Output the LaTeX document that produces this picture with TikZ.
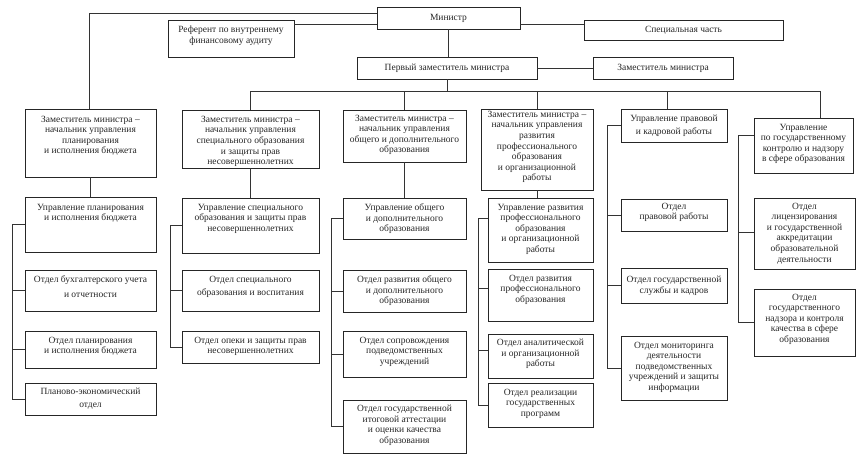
\documentclass[tikz,border=0pt]{standalone}
\usepackage{fontspec}
\setmainfont{Liberation Serif}
\usetikzlibrary{fit}
\tikzset{
  box/.style={draw=black!85, line width=0.9pt, inner sep=0pt, fill=white},
  txt/.style={align=center, inner sep=0pt, text=black!85, font=\fontsize{9.5}{10.6}\selectfont},
  ln/.style={draw=black!80, line width=0.85pt}
}
% #1 name, #2 x1, #3 y1, #4 x2, #5 y2, #6 first line centre y, #7 text
\newcommand\bx[7]{%
  \node[box, fit={(#2,#3) (#4,#5)}] (#1) {};
  \node[txt, anchor=north] (#1t) at ({(#2+#4)/2},{#6-4.3}) {#7};
}
\begin{document}
\begin{tikzpicture}[x=1pt,y=-1pt]
\fill[white] (0,0) rectangle (862,464);
\useasboundingbox (0,0) rectangle (862,464);
% top
\bx{min}{377}{7}{520}{29}{18}{Министр}
\bx{ref}{168}{20}{294}{57}{30}{Референт по внутреннему\\финансовому аудиту}
\bx{spec}{584}{20}{783}{40}{30}{Специальная часть}
\bx{perv}{357}{57}{537}{79}{68}{Первый заместитель министра}
\bx{zam}{593}{57}{733}{79}{68}{Заместитель министра}
% column 1
\bx{c1}{25}{109}{156}{177}{120}{Заместитель министра –\\начальник управления\\планирования\\и исполнения бюджета}
\bx{u1}{25}{197}{156}{252}{208}{Управление планирования\\и исполнения бюджета}
\bx{d1a}{25}{270}{156}{311}{280}{Отдел бухгалтерского учета\\[4.5pt]и отчетности}
\bx{d1b}{25}{331}{156}{368}{341}{Отдел планирования\\и исполнения бюджета}
\bx{d1c}{25}{383}{156}{415}{392}{Планово-экономический\\[2.5pt]отдел}
% column 2
\bx{c2}{182}{110}{319}{168}{120}{Заместитель министра –\\начальник управления\\специального образования\\и защиты прав\\несовершеннолетних}
\bx{u2}{182}{198}{319}{253}{208}{Управление специального\\образования и защиты прав\\несовершеннолетних}
\bx{d2a}{182}{270}{319}{311}{280}{Отдел специального\\[2.5pt]образования и воспитания}
\bx{d2b}{182}{331}{319}{363}{341}{Отдел опеки и защиты прав\\несовершеннолетних}
% column 3
\bx{c3}{343}{110}{466}{162}{119}{Заместитель министра –\\начальник управления\\общего и дополнительного\\образования}
\bx{u3}{343}{198}{466}{239}{208}{Управление общего\\и дополнительного\\образования}
\bx{d3a}{343}{270}{466}{312}{280}{Отдел развития общего\\и дополнительного\\образования}
\bx{d3b}{343}{331}{466}{377}{341}{Отдел сопровождения\\подведомственных\\учреждений}
\bx{d3c}{343}{400}{466}{453}{409}{Отдел государственной\\итоговой аттестации\\и оценки качества\\образования}
% column 4
\bx{c4}{481}{109}{593}{190}{115}{Заместитель министра –\\начальник управления\\развития\\профессионального\\образования\\и организационной\\работы}
\bx{u4}{488}{198}{593}{262}{208}{Управление развития\\профессионального\\образования\\и организационной\\работы}
\bx{d4a}{488}{269}{593}{321}{279}{Отдел развития\\профессионального\\образования}
\bx{d4b}{488}{334}{593}{378}{343}{Отдел аналитической\\и организационной\\работы}
\bx{d4c}{488}{383}{593}{427}{393}{Отдел реализации\\государственных\\программ}
% column 5
\bx{c5}{621}{109}{727}{142}{119}{Управление правовой\\[2pt]и кадровой работы}
\bx{d5a}{621}{199}{727}{231}{207}{Отдел\\правовой работы}
\bx{d5b}{621}{268}{727}{303}{280}{Отдел государственной\\службы и кадров}
\bx{d5c}{621}{336}{727}{400}{346}{Отдел мониторинга\\деятельности\\подведомственных\\учреждений и защиты\\информации}
% column 6
\bx{c6}{754}{118}{853}{173}{128}{Управление\\по государственному\\контролю и надзору\\в сфере образования}
\bx{d6a}{754}{198}{855}{269}{207}{Отдел\\лицензирования\\и государственной\\аккредитации\\образовательной\\деятельности}
\bx{d6b}{754}{289}{855}{356}{298}{Отдел\\государственного\\надзора и контроля\\качества в сфере\\образования}
% top connectors
\draw[ln] (min.west |- 0,13) -- (89,13) -- (c1.north -| 89,0);
\draw[ln] (ref.east |- 0,24) -- (min.west |- 0,24);
\draw[ln] (min.east |- 0,24) -- (spec.west |- 0,24);
\draw[ln] (min.south) -- (min.south |- perv.north);
\draw[ln] (perv.east) -- (zam.west);
\draw[ln] (perv.south) -- (perv.south |- 0,91);
\draw[ln] (c2.north) |- (820,91) -- (c6.north -| 820,0);
\draw[ln] (c3.north) -- (c3.north |- 0,91);
\draw[ln] (c4.north) -- (c4.north |- 0,91);
\draw[ln] (c5.north -| 667,0) -- (667,91);
% to second level
\draw[ln] (c1.south) -- (c1.south |- u1.north);
\draw[ln] (c2.south) -- (c2.south |- u2.north);
\draw[ln] (c3.south) -- (c3.south |- u3.north);
\draw[ln] (c4.south) -- (c4.south |- u4.north);
% side buses
\draw[ln] (u1.west) -- (u1.west -| 12,0) |- (d1c.west);
\draw[ln] (d1a.west -| 12,0) -- (d1a.west);
\draw[ln] (d1b.west -| 12,0) -- (d1b.west);
\draw[ln] (u2.west) -- (u2.west -| 170,0) |- (d2b.west);
\draw[ln] (d2a.west -| 170,0) -- (d2a.west);
\draw[ln] (u3.west) -- (u3.west -| 331,0) |- (d3c.west);
\draw[ln] (d3a.west -| 331,0) -- (d3a.west);
\draw[ln] (d3b.west -| 331,0) -- (d3b.west);
\draw[ln] (u4.west |- 0,218) -- (478,218) |- (d4c.west |- 0,405);
\draw[ln] (478,288) -- (d4a.west |- 0,288);
\draw[ln] (478,350) -- (d4b.west |- 0,350);
\draw[ln] (c5.west) -- (c5.west -| 607,0) |- (d5c.west);
\draw[ln] (d5a.west -| 607,0) -- (d5a.west);
\draw[ln] (d5b.west -| 607,0) -- (d5b.west);
\draw[ln] (c6.west |- 0,135) -- (738,135) |- (d6b.west);
\draw[ln] (738,232) -- (d6a.west |- 0,232);
\end{tikzpicture}
\end{document}
